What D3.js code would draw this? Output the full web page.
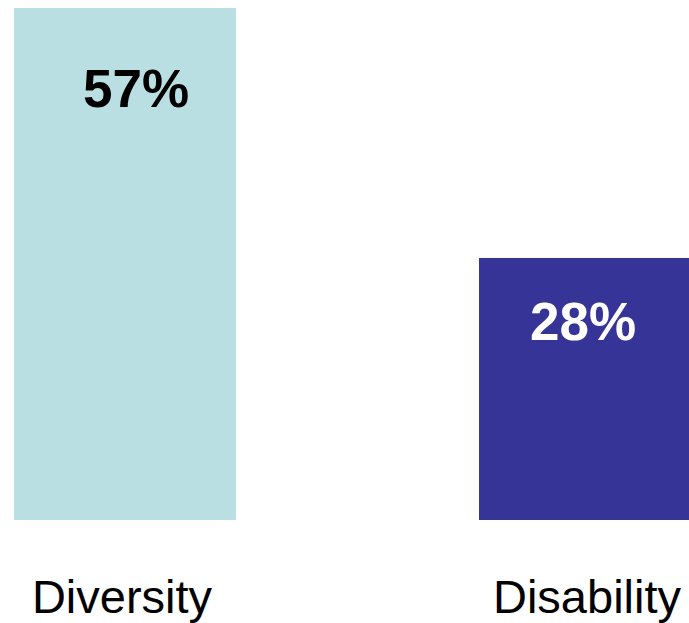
<!DOCTYPE html>
<html>
<head>
<meta charset="utf-8">
<script src="https://cdn.jsdelivr.net/npm/d3@7"></script>
<style>
  html, body { margin: 0; padding: 0; background: #fff; overflow: hidden; }
  svg { display: block; }
</style>
</head>
<body>
<svg id="chart" width="689" height="623"></svg>
<script>
// Share of respondents per topic
const categories = ["Diversity", "Disability"];
const values = [57, 28];
const barColors = ["#b9dfe2", "#363497"];
const labelColors = ["#000000", "#ffffff"];

const width = 689, height = 623;
const svg = d3.select("#chart");

// Second band runs past the right edge of the view
const x = d3.scaleBand()
  .domain(categories)
  .range([14, 701])
  .paddingInner(0.5226)
  .paddingOuter(0);

// Value axis baseline sits slightly below zero
const y = d3.scaleLinear()
  .domain([-2.4, 57])
  .range([520, 8]);

const bw = x.bandwidth();

svg.selectAll("rect.bar")
  .data(values)
  .join("rect")
  .attr("class", "bar")
  .attr("x", (d, i) => x(categories[i]))
  .attr("y", d => y(d))
  .attr("width", bw)
  .attr("height", d => y.range()[0] - y(d))
  .attr("fill", (d, i) => barColors[i]);

// Value labels inside the bars
svg.selectAll("text.val")
  .data(values)
  .join("text")
  .attr("class", "val")
  .attr("x", (d, i) => x(categories[i]) + bw / 2 + (i === 0 ? 11 : -7))
  .attr("y", d => y(d) + 64 + 0.068 * (y.range()[0] - y(d)))
  .attr("text-anchor", "middle")
  .attr("font-family", "'Liberation Sans', Arial, sans-serif")
  .attr("font-weight", "bold")
  .attr("font-size", 53)
  .attr("fill", (d, i) => labelColors[i])
  .text(d => d + "%");

// Category labels under the bars
svg.selectAll("text.cat")
  .data(categories)
  .join("text")
  .attr("class", "cat")
  .attr("x", d => x(d) + bw / 2 - 3)
  .attr("y", 613)
  .attr("text-anchor", "middle")
  .attr("font-family", "'Liberation Sans', Arial, sans-serif")
  .attr("font-size", 47)
  .attr("fill", "#000")
  .text(d => d);
</script>
</body>
</html>
